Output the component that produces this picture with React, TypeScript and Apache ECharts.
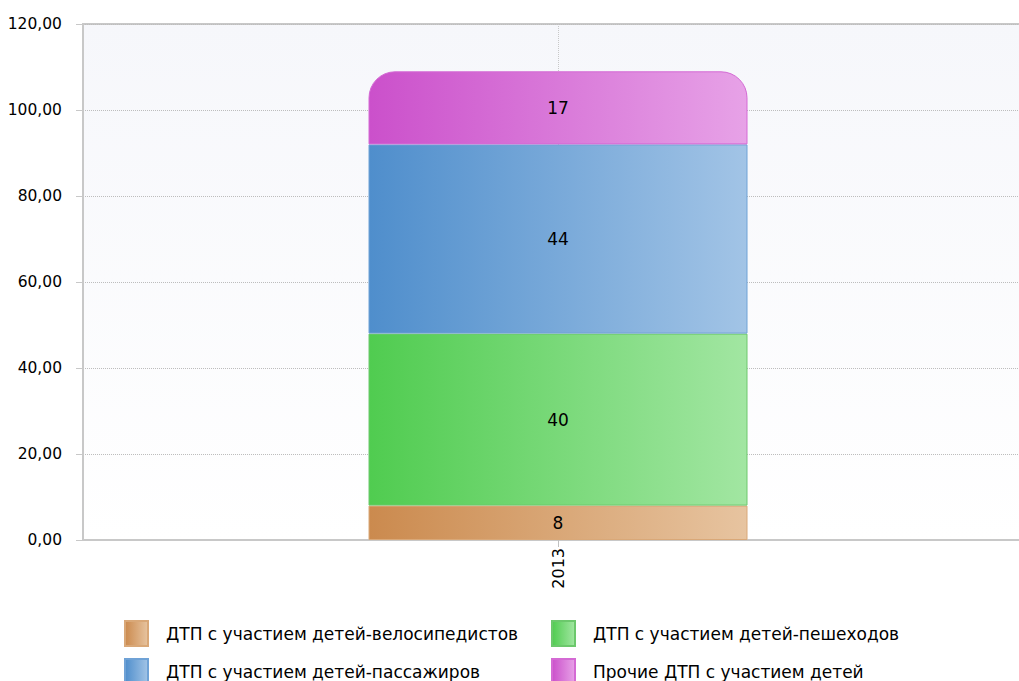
import React, { useEffect, useRef } from "react";
import * as echarts from "echarts";

const categories = ["2013"];
const seriesNames = [
  "ДТП с участием детей-велосипедистов",
  "ДТП с участием детей-пешеходов",
  "ДТП с участием детей-пассажиров",
  "Прочие ДТП с участием детей",
];
const veloValues = [8];
const peshValues = [40];
const passValues = [44];
const otherValues = [17];
const yTicks = [0, 20, 40, 60, 80, 100, 120];

const grad = (a: string, b: string) =>
  new echarts.graphic.LinearGradient(0, 0, 1, 0, [
    { offset: 0, color: a },
    { offset: 1, color: b },
  ]);

const FONT = "DejaVu Sans";

export default function App() {
  const ref = useRef<HTMLDivElement>(null);
  useEffect(() => {
    document.body.style.margin = "0";
    document.documentElement.style.overflow = "hidden";
    document.body.style.overflow = "hidden";
    const chart = echarts.init(ref.current!, null, { renderer: "svg" });
    const colors = [
      ["#cb8a4e", "#e7c4a0", "#d9a878"],
      ["#50cc50", "#a2e6a2", "#6cc86c"],
      ["#4f8ecc", "#a2c4e6", "#6fa2d6"],
      ["#cb50cb", "#e7a2e7", "#d46ad4"],
    ];
    const data = [veloValues, peshValues, passValues, otherValues];
    const series = seriesNames.map((name, i) => ({
      name,
      type: "bar",
      stack: "total",
      barWidth: 379,
      data: data[i],
      itemStyle: {
        color: grad(colors[i][0], colors[i][1]),
        borderColor: colors[i][2],
        borderWidth: 1,
        borderRadius: i === 3 ? [26, 26, 0, 0] : 0,
      },
      label: {
        show: true,
        position: "inside",
        color: "#000",
        fontSize: 17,
        fontFamily: FONT,
      },
    }));
    const legendPos = [
      { left: 124, top: 620 },
      { left: 551, top: 620 },
      { left: 124, top: 658 },
      { left: 551, top: 658 },
    ];
    const legends = seriesNames.map((name, i) => ({
      ...legendPos[i],
      padding: 0,
      data: [name],
      icon: "rect",
      itemWidth: 23,
      itemHeight: 25,
      selectedMode: false,
      textStyle: {
        fontSize: 17,
        fontFamily: FONT,
        color: "#000",
        padding: [0, 0, 0, 13],
      },
    }));
    chart.setOption({
      animation: false,
      backgroundColor: "#fff",
      grid: {
        left: 83,
        top: 24,
        right: 7,
        bottom: 141,
        show: true,
        backgroundColor: new echarts.graphic.LinearGradient(0, 0, 0, 1, [
          { offset: 0, color: "#f6f7fb" },
          { offset: 1, color: "#ffffff" },
        ]),
        borderColor: "#c8c8c8",
        borderWidth: 2,
      },
      legend: legends,
      xAxis: {
        type: "category",
        data: categories,
        axisLine: { show: true, lineStyle: { color: "#c8c8c8", width: 2 } },
        axisTick: { show: true, alignWithLabel: true, length: 7, lineStyle: { color: "#c0c0c0" } },
        splitLine: {
          show: true,
          alignWithLabel: true,
          lineStyle: { color: "#c8c8c8", type: "dotted" },
        },
        axisLabel: {
          rotate: 90,
          fontSize: 16,
          fontFamily: FONT,
          color: "#000",
          margin: 8,
        },
      },
      yAxis: {
        type: "value",
        min: yTicks[0],
        max: yTicks[yTicks.length - 1],
        interval: 20,
        axisLine: { show: true, lineStyle: { color: "#c8c8c8", width: 2 } },
        axisTick: { show: true, length: 7, lineStyle: { color: "#c8c8c8" } },
        splitLine: { show: true, lineStyle: { color: "#bdbdbd", type: "dotted" } },
        axisLabel: {
          fontSize: 15.5,
          fontFamily: FONT,
          color: "#000",
          margin: 21,
          formatter: (v: number) => v.toFixed(2).replace(".", ","),
        },
      },
      series,
    });
    return () => chart.dispose();
  }, []);
  return <div ref={ref} style={{ width: 1040, height: 681 }} />;
}
